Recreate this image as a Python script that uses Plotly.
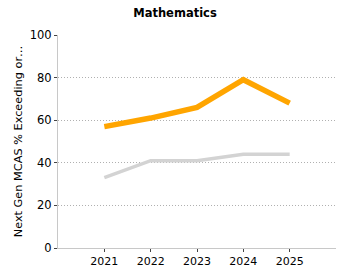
import plotly.graph_objects as go

years = [2021, 2022, 2023, 2024, 2025]
school = [57, 61, 66, 79, 68]
state = [33, 41, 41, 44, 44]
yticks = [0, 20, 40, 60, 80, 100]

font = "DejaVu Sans, Verdana, sans-serif"

fig = go.Figure()
fig.add_trace(go.Scatter(x=years, y=state, mode="lines",
                         line=dict(color="#D3D3D3", width=3.5), showlegend=False))
fig.add_trace(go.Scatter(x=years, y=school, mode="lines",
                         line=dict(color="#FFA500", width=5.5), showlegend=False))

fig.update_layout(
    width=350, height=280,
    margin=dict(l=58, r=14, t=35, b=32),
    paper_bgcolor="white", plot_bgcolor="white",
    font=dict(family=font, size=11, color="#000"),
    title=dict(text="<b>Mathematics</b>", x=0.5, xanchor="center", y=0.955, yanchor="middle",
               font=dict(family=font, size=11.5, color="#000")),
    xaxis=dict(range=[2020, 2026], tickvals=years, ticktext=[str(y) for y in years],
               showgrid=False, zeroline=False, showline=True, linecolor="#C8C8C8", linewidth=1,
               ticks="outside", ticklen=3, tickcolor="#444", tickfont=dict(size=11)),
    yaxis=dict(range=[0, 100], tickvals=yticks, showgrid=True, gridcolor="#B0B0B0",
               griddash="1px,2px", gridwidth=1, zeroline=False, showline=True,
               linecolor="#C8C8C8", linewidth=1, ticks="outside", ticklen=3, tickcolor="#444",
               tickfont=dict(size=11.5),
               title=dict(text="Next Gen MCAS % Exceeding or…", font=dict(size=11.3), standoff=4)),
)

fig.write_html("out.html")
